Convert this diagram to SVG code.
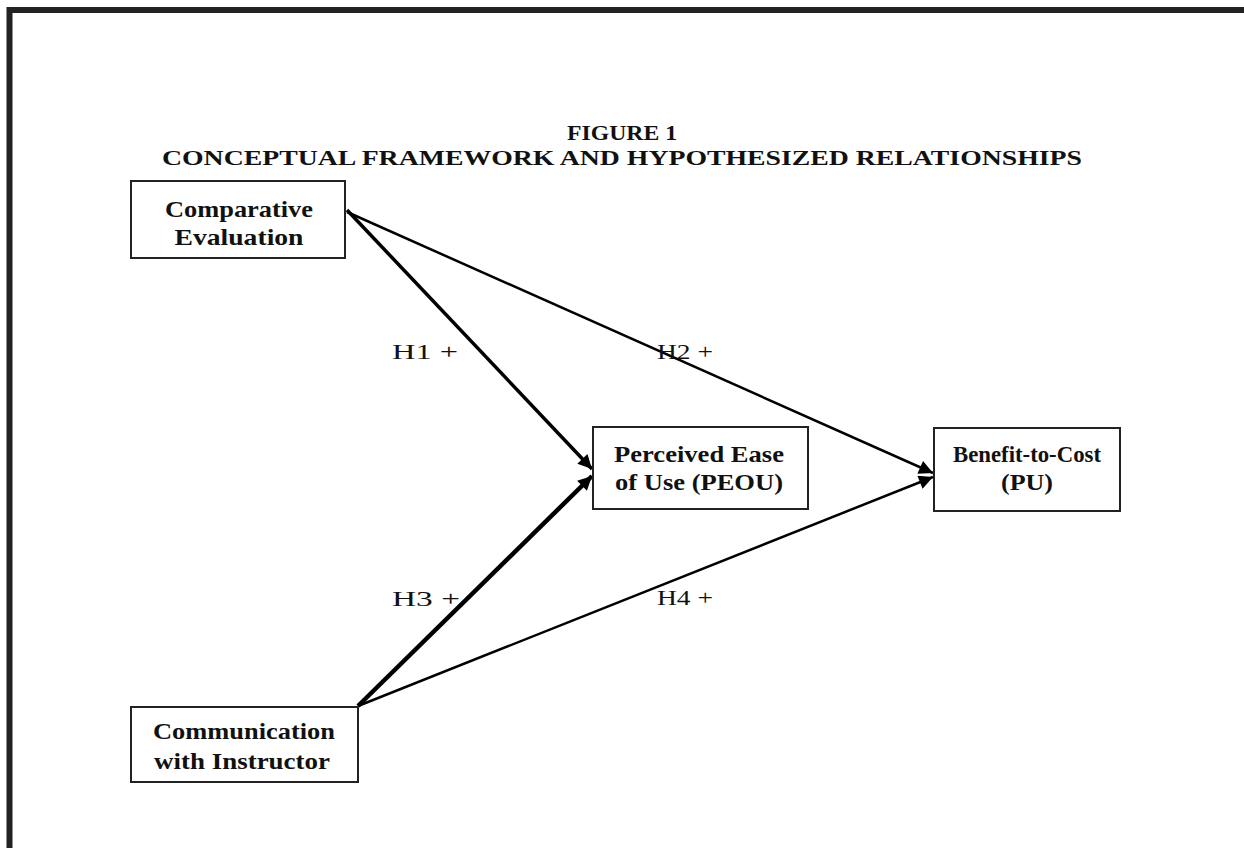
<svg xmlns="http://www.w3.org/2000/svg" width="1244" height="848" viewBox="0 0 1244 848">
<style>
.box{fill:#fff;stroke:#222;stroke-width:2}
.nt{font-family:"Liberation Serif",serif;font-weight:bold;font-size:23px;fill:#111;text-anchor:middle}
.lb{font-family:"Liberation Serif",serif;font-size:22px;fill:#111}
.ti{font-family:"Liberation Serif",serif;font-weight:bold;font-size:21px;fill:#111;text-anchor:middle}
.ln{stroke:#000;fill:none}
</style>
<defs>
<marker id="ah" viewBox="0 0 10 10" refX="10" refY="5" markerWidth="18" markerHeight="14" markerUnits="userSpaceOnUse" orient="auto">
<path d="M0,0 L10,5 L0,10 z" fill="#000"/>
</marker>
</defs>
<rect width="1244" height="848" fill="#fff"/>
<path d="M9.5,848 V10 H1244" fill="none" stroke="#222" stroke-width="6"/>
<g id="title">
<text class="ti" x="622" y="140" textLength="110" lengthAdjust="spacingAndGlyphs">FIGURE 1</text>
<text class="ti" x="622" y="165" textLength="920" lengthAdjust="spacingAndGlyphs">CONCEPTUAL FRAMEWORK AND HYPOTHESIZED RELATIONSHIPS</text>
</g>
<g id="connectors">
<line class="ln" x1="347" y1="210" x2="592" y2="469" stroke-width="3.5" marker-end="url(#ah)"/>
<line class="ln" x1="347" y1="212" x2="933" y2="473" stroke-width="2.5" marker-end="url(#ah)"/>
<line class="ln" x1="358" y1="706" x2="592" y2="476" stroke-width="4.5" marker-end="url(#ah)"/>
<line class="ln" x1="358" y1="706" x2="933" y2="477" stroke-width="2.5" marker-end="url(#ah)"/>
<text class="lb" x="392" y="359" textLength="66" lengthAdjust="spacingAndGlyphs">H1 +</text>
<text class="lb" x="657" y="359" textLength="56" lengthAdjust="spacingAndGlyphs">H2 +</text>
<text class="lb" x="392" y="606" textLength="68" lengthAdjust="spacingAndGlyphs">H3 +</text>
<text class="lb" x="657" y="605" textLength="56" lengthAdjust="spacingAndGlyphs">H4 +</text>
</g>
<g id="ce">
<rect class="box" x="131" y="181" width="214" height="77"/>
<text class="nt" x="239" y="217" textLength="148" lengthAdjust="spacingAndGlyphs">Comparative</text>
<text class="nt" x="239" y="245" textLength="129" lengthAdjust="spacingAndGlyphs">Evaluation</text>
</g>
<g id="peou">
<rect class="box" x="593" y="427" width="215" height="82"/>
<text class="nt" x="699" y="462" textLength="170" lengthAdjust="spacingAndGlyphs">Perceived Ease</text>
<text class="nt" x="699" y="490" textLength="168" lengthAdjust="spacingAndGlyphs">of Use (PEOU)</text>
</g>
<g id="pu">
<rect class="box" x="934" y="428" width="186" height="83"/>
<text class="nt" x="1027" y="462" textLength="148" lengthAdjust="spacingAndGlyphs">Benefit-to-Cost</text>
<text class="nt" x="1027" y="490" textLength="52" lengthAdjust="spacingAndGlyphs">(PU)</text>
</g>
<g id="ci">
<rect class="box" x="131" y="707" width="227" height="75"/>
<text class="nt" x="244" y="739" textLength="182" lengthAdjust="spacingAndGlyphs">Communication</text>
<text class="nt" x="242" y="769" textLength="176" lengthAdjust="spacingAndGlyphs">with Instructor</text>
</g>
</svg>
